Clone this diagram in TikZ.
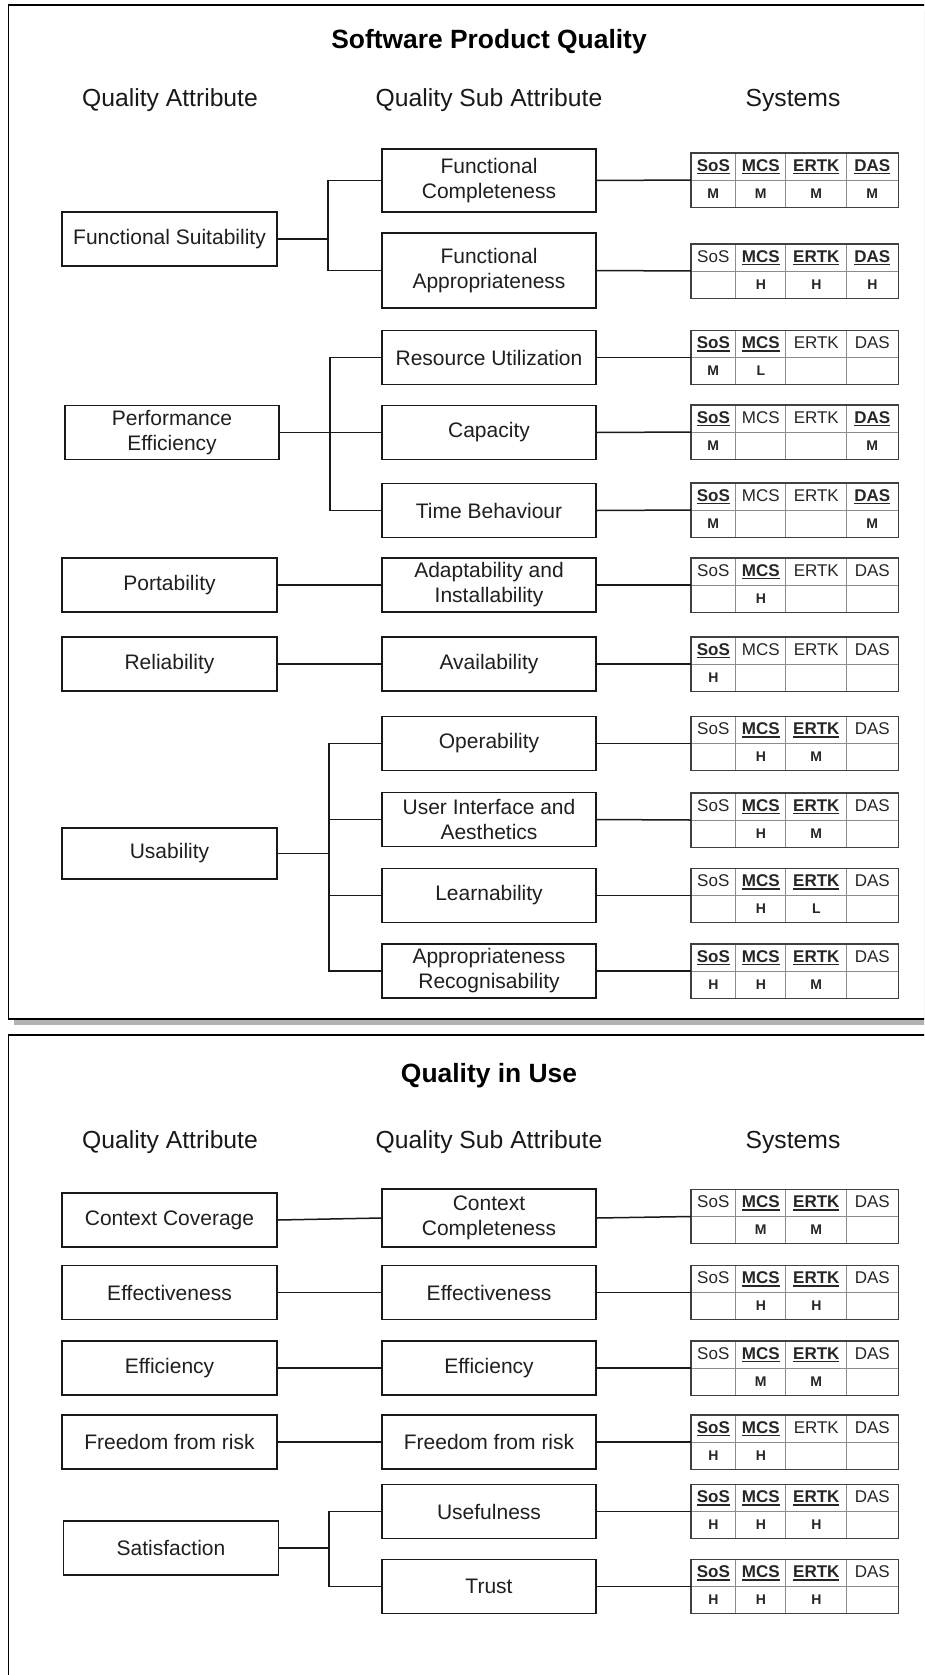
\documentclass[tikz,border=0pt]{standalone}
\usepackage{fontspec}
\setmainfont{Liberation Sans}
\usetikzlibrary{calc}

% font sizes (1pt = 1 unit of the drawing grid)
\newcommand\qBoxFont{\fontsize{21pt}{25pt}\selectfont}
\newcommand\qHeadFont{\fontsize{24.7pt}{28pt}\selectfont}
\newcommand\qTitleFont{\fontsize{26.4pt}{30pt}\selectfont\bfseries}
\newcommand\qTabFont{\fontsize{17pt}{20pt}\selectfont}
\newcommand\qValFont{\fontsize{14pt}{16pt}\selectfont\bfseries}

% bold, underlined system name (used when the system has a rating)
\newsavebox\qUlBox
\newcommand\qUlHead[1]{\sbox\qUlBox{\bfseries #1}\rlap{\rule[-3.2pt]{\wd\qUlBox}{1.3pt}}\usebox\qUlBox}
\newcommand\qSysHead[2]{\if\relax\detokenize{#2}\relax #1\else\qUlHead{#1}\fi}

\tikzset{
  panel/.style={draw=black, line width=1.5pt, fill=white},
  attrbox/.style={draw=black!90, line width=1.5pt, minimum width=215pt, minimum height=54pt,
    inner sep=0pt, align=center, font=\qBoxFont, text=black!88},
  subbox/.style={attrbox, minimum width=214pt},
  wire/.style={draw=black!90, line width=1.5pt},
  systable/.style={minimum width=207pt, minimum height=54pt, inner sep=0pt},
  tabgrid/.style={draw=black!45, line width=0.9pt},
  tabframe/.style={draw=black!75, line width=1.4pt},
  tabhead/.style={font=\qTabFont, text=black!85, inner sep=0pt, text height=12.5pt, text depth=3pt},
  tabval/.style={font=\qValFont, text=black!85, inner sep=0pt, text height=10pt, text depth=0pt},
  coltitle/.style={font=\qHeadFont, text=black!90, inner sep=0pt},
  paneltitle/.style={font=\qTitleFont, text=black, inner sep=0pt},
}

% systems table: name, centre, ratings for SoS, MCS, ERTK, DAS
\newcommand\systab[6]{%
  \node[systable] (#1) at #2 {};
  \draw[tabgrid] (#1.west) -- (#1.east);
  \begin{scope}[shift={(#1.north west)}]
    \draw[tabgrid] (45,0) -- (45,54) (95,0) -- (95,54) (156,0) -- (156,54);
    \node[tabhead] (#1-hsos)  at (22.5,13.5)  {\qSysHead{SoS}{#3}};
    \node[tabhead] (#1-hmcs)  at (70,13.5)    {\qSysHead{MCS}{#4}};
    \node[tabhead] (#1-hertk) at (125.5,13.5) {\qSysHead{ERTK}{#5}};
    \node[tabhead] (#1-hdas)  at (181.5,13.5) {\qSysHead{DAS}{#6}};
    \node[tabval] (#1-vsos)  at (22.5,40.5)  {#3};
    \node[tabval] (#1-vmcs)  at (70,40.5)    {#4};
    \node[tabval] (#1-vertk) at (125.5,40.5) {#5};
    \node[tabval] (#1-vdas)  at (181.5,40.5) {#6};
  \end{scope}
  \draw[tabframe] (#1.north west) rectangle (#1.south east);
}

\begin{document}
\begin{tikzpicture}[x=1pt, y=-1pt]
\useasboundingbox (0,0) rectangle (924,1675);
\clip (0,0) rectangle (924,1675);
\fill[white] (0,0) rectangle (924,1675);

% ---------- panel 1: software product quality ----------
\fill[black!30] (14,11) rectangle (950,1025);
\draw[panel] (8.5,5) rectangle (945,1019);

\node[paneltitle] (p1title) at (489,42) {Software Product Quality};
\node[coltitle] (p1ha) at (170,100) {Quality Attribute};
\node[coltitle] (p1hs) at (489,100) {Quality Sub Attribute};
\node[coltitle] (p1hy) at (793,100) {Systems};

\node[attrbox] (fs)   at (169.5,239)   {Functional Suitability};
\node[attrbox, minimum width=214pt] (pe) at (172,432.5) {Performance\\Efficiency};
\node[attrbox] (port) at (169.5,585)   {Portability};
\node[attrbox] (rel)  at (169.5,664)   {Reliability};
\node[attrbox, minimum height=51pt] (usa) at (169.5,853.5) {Usability};

\node[subbox, minimum height=63pt] (fc) at (489,180.5) {Functional\\Completeness};
\node[subbox, minimum height=75pt] (fa) at (489,270.5) {Functional\\Appropriateness};
\node[subbox] (ru)  at (489,357.5) {Resource Utilization};
\node[subbox] (cap) at (489,432.5) {Capacity};
\node[subbox] (tb)  at (489,510.5) {Time Behaviour};
\node[subbox] (ai)  at (489,585)   {Adaptability and\\Installability};
\node[subbox] (av)  at (489,664)   {Availability};
\node[subbox] (op)  at (489,743.5) {Operability};
\node[subbox] (ui)  at (489,819.5) {User Interface and\\Aesthetics};
\node[subbox] (le)  at (489,895.5) {Learnability};
\node[subbox] (ar)  at (489,971)   {Appropriateness\\Recognisability};

\systab{tfc}{(794.5,180)}{M}{M}{M}{M}
\systab{tfa}{(794.5,271)}{}{H}{H}{H}
\systab{tru}{(794.5,357.5)}{M}{L}{}{}
\systab{tcap}{(794.5,432)}{M}{}{}{M}
\systab{ttb}{(794.5,510)}{M}{}{}{M}
\systab{tai}{(794.5,585)}{}{H}{}{}
\systab{tav}{(794.5,664)}{H}{}{}{}
\systab{top}{(794.5,743.5)}{}{H}{M}{}
\systab{tui}{(794.5,820)}{}{H}{M}{}
\systab{tle}{(794.5,895.5)}{}{H}{L}{}
\systab{tar}{(794.5,971)}{H}{H}{M}{}

% branch columns
\coordinate (bfs) at (328,0);
\coordinate (bpe) at (330,0);
\coordinate (bus) at (329,0);

\draw[wire] (fs.east) -- (bfs |- fs.east);
\draw[wire] (fc.west) -| (bfs |- fs.east) |- (fa.west);
\draw[wire] (pe.east) -- (cap.west);
\draw[wire] (ru.west) -| (bpe |- pe.east) |- (tb.west);
\draw[wire] (port.east) -- (ai.west);
\draw[wire] (rel.east) -- (av.west);
\draw[wire] (usa.east) -- (bus |- usa.east);
\draw[wire] (op.west) -| (bus |- usa.east) |- (ar.west);
\draw[wire] (ui.west) -- (bus |- ui.west);
\draw[wire] (le.west) -- (bus |- le.west);

\foreach \s/\t in {fc/tfc, fa/tfa, ru/tru, cap/tcap, tb/ttb, ai/tai, av/tav, op/top, ui/tui, le/tle, ar/tar}
  \draw[wire] (\s.east) -- (\t.west);

% ---------- panel 2: quality in use ----------
\draw[panel] (8.5,1035) rectangle (945,1720);

\node[paneltitle] (p2title) at (489,1076) {Quality in Use};
\node[coltitle] (p2ha) at (170,1142) {Quality Attribute};
\node[coltitle] (p2hs) at (489,1142) {Quality Sub Attribute};
\node[coltitle] (p2hy) at (793,1142) {Systems};

\node[attrbox] (cc)   at (169.5,1220)   {Context Coverage};
\node[attrbox] (eff)  at (169.5,1292.5) {Effectiveness};
\node[attrbox] (effi) at (169.5,1368)   {Efficiency};
\node[attrbox] (ffr)  at (169.5,1442)   {Freedom from risk};
\node[attrbox] (sat)  at (171,1548)     {Satisfaction};

\node[subbox, minimum height=58pt] (ccm) at (489,1218) {Context\\Completeness};
\node[subbox] (effm)  at (489,1292.5) {Effectiveness};
\node[subbox] (effim) at (489,1368)   {Efficiency};
\node[subbox] (ffrm)  at (489,1442)   {Freedom from risk};
\node[subbox] (usef)  at (489,1511.5) {Usefulness};
\node[subbox] (trust) at (489,1586.5) {Trust};

\systab{tccm}{(794.5,1216.5)}{}{M}{M}{}
\systab{teffm}{(794.5,1292.5)}{}{H}{H}{}
\systab{teffim}{(794.5,1368)}{}{M}{M}{}
\systab{tffrm}{(794.5,1442)}{H}{H}{}{}
\systab{tusef}{(794.5,1511.5)}{H}{H}{H}{}
\systab{ttrust}{(794.5,1586.5)}{H}{H}{H}{}

\coordinate (bsat) at (329,0);

\draw[wire] (cc.east) -- (ccm.west);
\draw[wire] (eff.east) -- (effm.west);
\draw[wire] (effi.east) -- (effim.west);
\draw[wire] (ffr.east) -- (ffrm.west);
\draw[wire] (sat.east) -- (bsat |- sat.east);
\draw[wire] (usef.west) -| (bsat |- sat.east) |- (trust.west);

\foreach \s/\t in {ccm/tccm, effm/teffm, effim/teffim, ffrm/tffrm, usef/tusef, trust/ttrust}
  \draw[wire] (\s.east) -- (\t.west);
\end{tikzpicture}
\end{document}
